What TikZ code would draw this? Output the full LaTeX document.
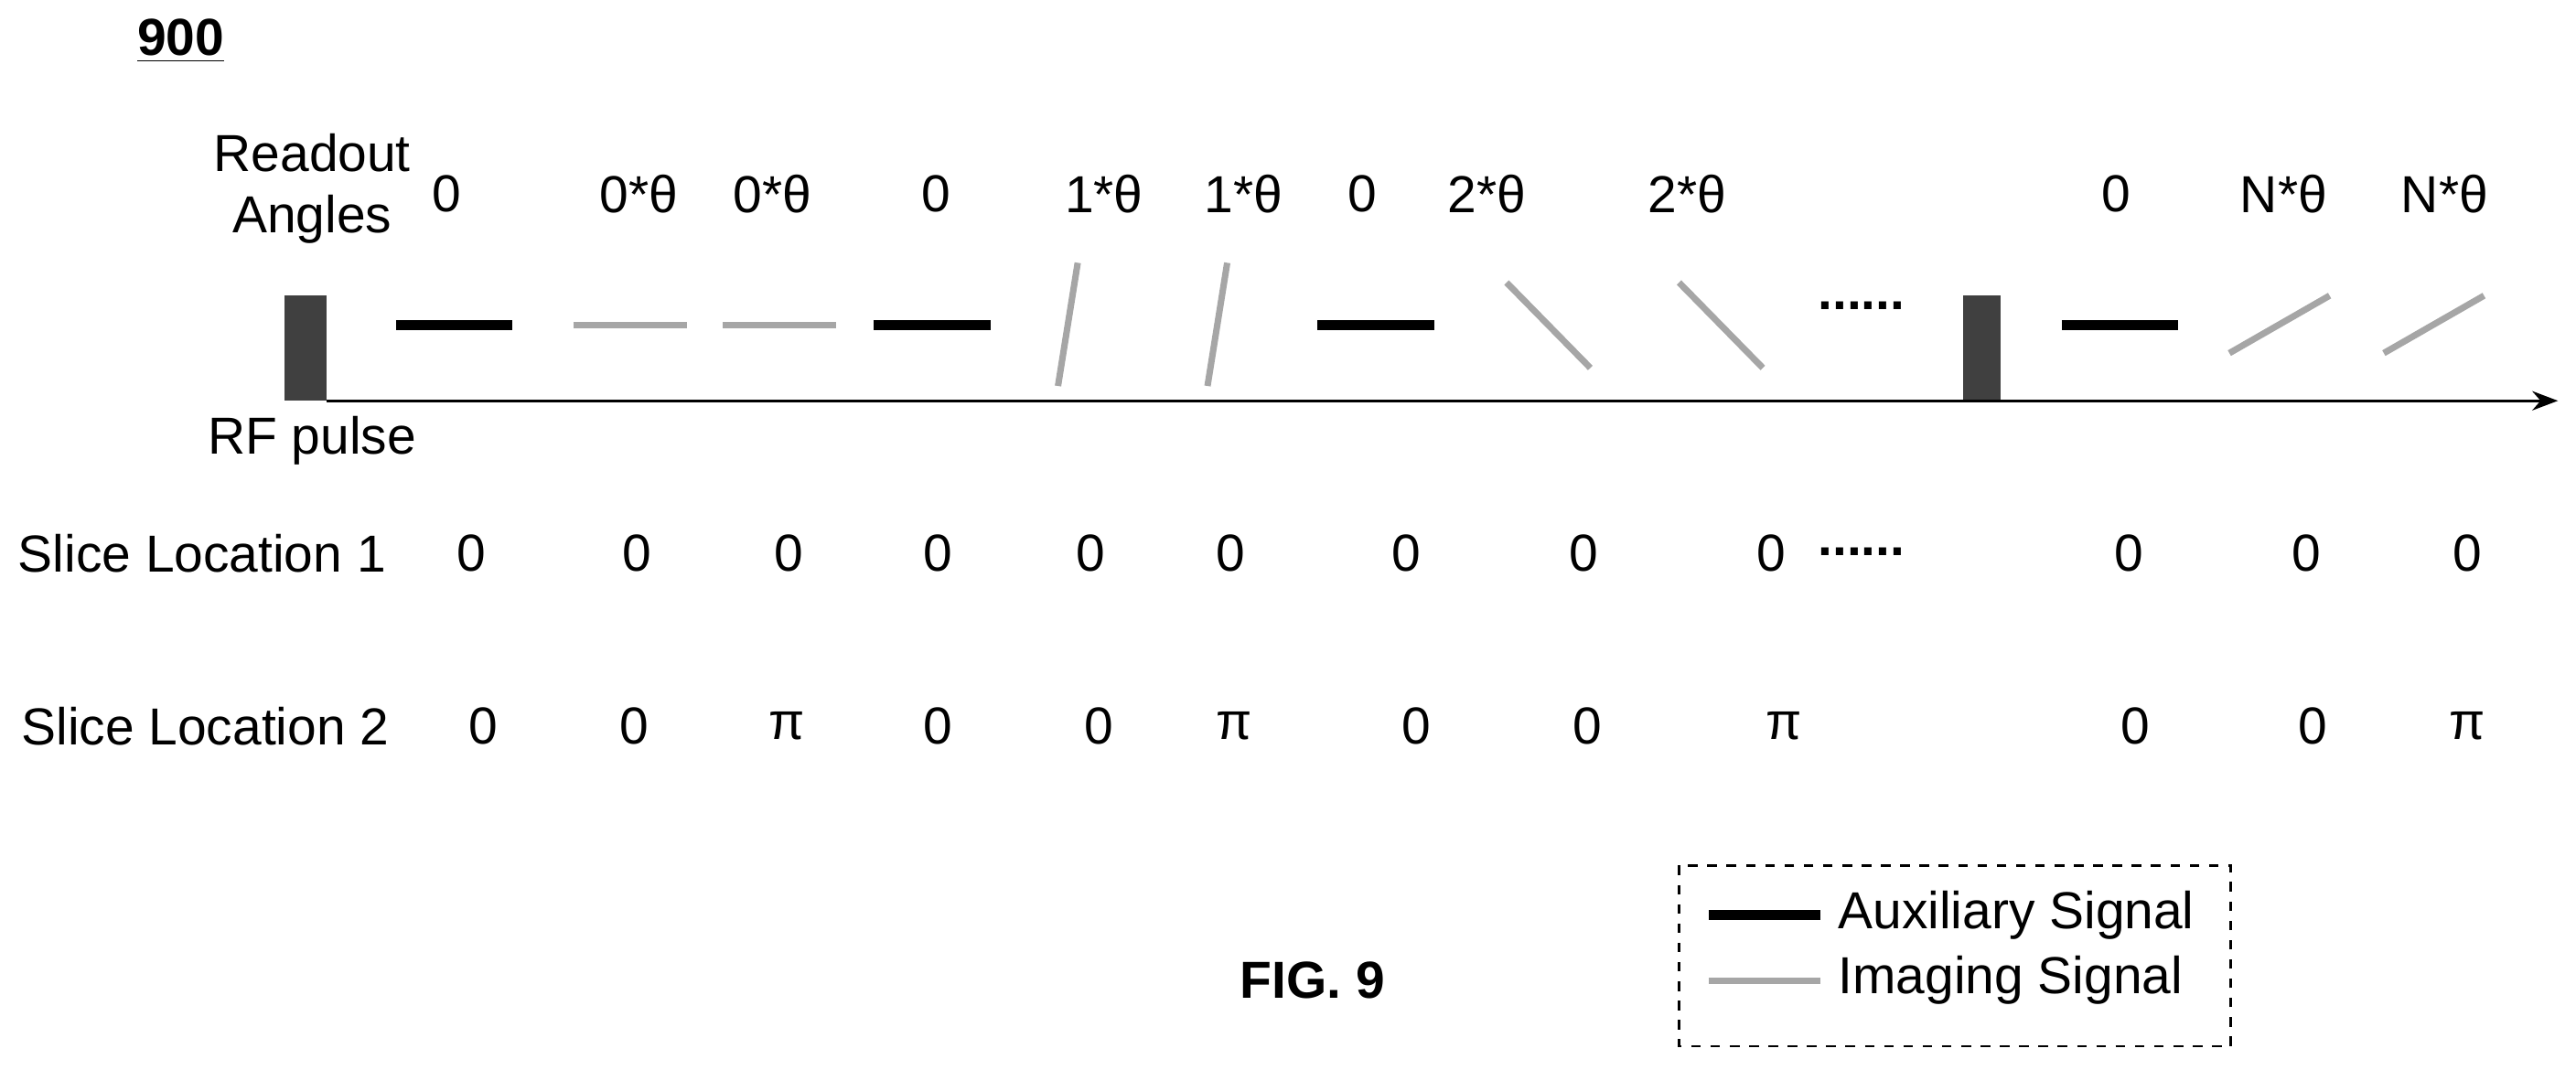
\documentclass[tikz,border=0pt]{standalone}
\usepackage{fontspec}
\setmainfont{Liberation Sans}
\usetikzlibrary{arrows.meta,positioning}

\begin{document}
\begin{tikzpicture}[x=0.01796cm,y=-0.01796cm,>={Stealth[length=8pt]},
	every node/.style={font=\fontsize{16.2}{19}\selectfont},
	aux/.style={line width=3.2pt,black},
	img/.style={line width=2pt,gray!70},
	pulse/.style={fill=black!75,draw=none}]

	\useasboundingbox (0,0) rectangle (1568,651);

	\node (LBL) at (110,25) {\textbf{\underline{900}}};
	\node (RA) [align=center] at (190,115) {Readout\\Angles};
	\node (RF) at (190,268) {RF pulse};

	% RF pulses and time axis
	\fill[pulse] (173,180) rectangle (199,244);
	\fill[pulse] (1195,180) rectangle (1218,244);
	\coordinate (T0) at (199,244);
	\coordinate (T1) at (1557,244);
	\draw[->,thick] (T0) -- (T1);

	% readout segments
	\foreach \a in {241,532,802,1255}
		\draw[aux] (\a,198) -- ++(71,0);
	\foreach \a in {349,440}
		\draw[img] (\a,198) -- ++(69,0);
	\foreach \a in {644,735}
		\draw[img] (\a,235) -- ++(12,-75);
	\foreach \a in {917,1022}
		\draw[img] (\a,172) -- ++(51,52);
	\foreach \a in {1357,1451}
		\draw[img] (\a,215) -- ++(61,-35);
	\node (D1) at (1133,186) {\textbf{......}};

	% readout angles
	\foreach \x/\t in {272/0,389/0*θ,470/0*θ,570/0,672/1*θ,757/1*θ,829/0,
		905/2*θ,1027/2*θ,1288/0,1390/N*θ,1488/N*θ}
		\node at (\x,118) {\t};

	% slice locations
	\node (S1) at (123,337) {Slice Location 1};
	\foreach \x in {287,388,480,571,664,749,856,964,1078,1296,1404,1502}
		\node at (\x,337) {0};
	\node (D2) at (1133,336) {\textbf{......}};
	\node (S2) at (125,442) {Slice Location 2};
	\foreach \x/\t in {294/0,386/0,479/π,571/0,669/0,751/π,862/0,966/0,
		1086/π,1300/0,1408/0,1502/π}
		\node at (\x,442) {\t};

	% legend
	\draw[dashed,thick] (1022,527) rectangle (1358,637);
	\draw[aux] (1040,557) -- (1108,557);
	\node (AUX) [anchor=west] at (1112,557) {Auxiliary Signal};
	\draw[img] (1040,597) -- (1108,597);
	\node (IMG) [anchor=west] at (1112,597) {Imaging Signal};

	\node (FIG) at (799,597) {\textbf{FIG. 9}};
\end{tikzpicture}
\end{document}
